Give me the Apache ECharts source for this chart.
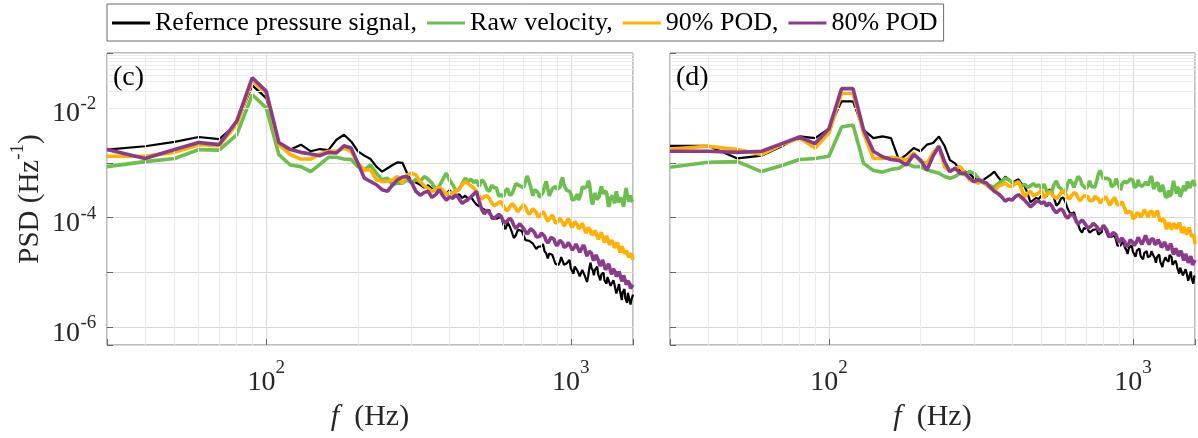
<!DOCTYPE html>
<html><head><meta charset="utf-8">
<script src="https://cdn.jsdelivr.net/npm/echarts@6/dist/echarts.min.js"></script>
<style>html,body{margin:0;padding:0;background:#fff}#c{width:1198px;height:438px}</style>
</head><body><div id="c"></div>
<script>
// Frequency bins (Hz)
const freq = [30,40,50,60,70,80,90,100,110,120,130,140,150,160,170,180,190,200,210,220,230,240,250,260,270,280,290,300,
310,320,330,340,350,360,370,380,390,400,410,420,430,440,450,460,470,480,490,500,
510,520,530,540,550,560,570,580,590,600,610,620,630,640,650,660,670,680,690,700,
710,720,730,740,750,760,770,780,790,800,810,820,830,840,850,860,870,880,890,900,
910,920,930,940,950,960,970,980,990,1000,1010,1020,1030,1040,1050,1060,1070,1080,1090,1100,
1110,1120,1130,1140,1150,1160,1170,1180,1190,1200,1210,1220,1230,1240,1250,1260,1270,1280,1290,1300,
1310,1320,1330,1340,1350,1360,1370,1380,1390,1400,1410,1420,1430,1440,1450,1460,1470,1480,1490,1500,
1510,1520,1530,1540,1550,1560,1570,1580,1590,1600];

// Panel (c)
const refC = [1.74e-3,2.0e-3,2.4e-3,2.95e-3,2.69e-3,5.13e-3,2.57e-2,1.51e-2,2.34e-3,1.74e-3,
2.14e-3,1.62e-3,1.78e-3,1.7e-3,2.63e-3,3.24e-3,2.45e-3,1.62e-3,1.35e-3,1.17e-3,
8.51e-4,6.92e-4,7.94e-4,9.12e-4,1.02e-3,1.0e-3,6.46e-4,4.57e-4,
4.37e-4,3.98e-4,3.55e-4,3.89e-4,3.39e-4,3.16e-4,3.63e-4,3.02e-4,2.75e-4,3.16e-4,
2.63e-4,2.4e-4,2.69e-4,2.29e-4,2.51e-4,2.19e-4,2.4e-4,2.0e-4,1.74e-4,1.62e-4,
1.48e-4,1.41e-4,1.32e-4,1.38e-4,9.55e-5,9.77e-5,9.55e-5,1.0e-4,1.1e-4,7.59e-5,
6.17e-5,8.13e-5,6.92e-5,5.5e-5,4.27e-5,4.79e-5,6.03e-5,6.46e-5,5.75e-5,5.5e-5,
3.89e-5,3.98e-5,3.8e-5,3.8e-5,3.39e-5,3.47e-5,2.69e-5,2.95e-5,3.09e-5,3.02e-5,
3.31e-5,2.45e-5,2.24e-5,1.82e-5,2.24e-5,2.19e-5,2.09e-5,2.04e-5,1.45e-5,1.48e-5,
1.38e-5,1.55e-5,1.91e-5,1.91e-5,1.38e-5,1.45e-5,1.48e-5,1.51e-5,1.7e-5,1.2e-5,
1.15e-5,9.55e-6,1.29e-5,1.23e-5,1.1e-5,1.05e-5,8.51e-6,7.94e-6,1.12e-5,1.05e-5,
8.91e-6,8.51e-6,6.76e-6,8.51e-6,1.2e-5,1.51e-5,1.2e-5,1.1e-5,8.91e-6,1.12e-5,
1.15e-5,1.29e-5,9.33e-6,8.91e-6,7.24e-6,9.33e-6,9.12e-6,1.0e-5,7.24e-6,7.08e-6,
6.31e-6,8.32e-6,7.94e-6,8.13e-6,5.75e-6,5.75e-6,5.37e-6,7.24e-6,6.17e-6,6.17e-6,
4.17e-6,4.68e-6,4.57e-6,6.17e-6,4.68e-6,4.68e-6,3.16e-6,4.37e-6,4.57e-6,5.01e-6,
3.39e-6,3.55e-6,2.82e-6,4.27e-6,4.07e-6,3.98e-6,2.63e-6,3.16e-6,3.31e-6,3.98e-6];

const rawC = [8.51e-4,1.05e-3,1.2e-3,1.74e-3,1.7e-3,3.24e-3,1.74e-2,1.0e-2,1.41e-3,9.12e-4,
8.51e-4,6.92e-4,9.33e-4,1.26e-3,1.26e-3,1.17e-3,1.15e-3,8.51e-4,7.41e-4,9.12e-4,
6.46e-4,4.9e-4,5.25e-4,3.98e-4,4.27e-4,4.27e-4,4.9e-4,4.27e-4,
5.01e-4,4.57e-4,5.62e-4,5.01e-4,4.27e-4,3.24e-4,3.8e-4,5.01e-4,6.46e-4,4.79e-4,
3.98e-4,3.02e-4,3.31e-4,4.17e-4,5.25e-4,4.57e-4,5.01e-4,4.37e-4,4.79e-4,3.72e-4,
4.9e-4,4.37e-4,3.31e-4,3.02e-4,3.89e-4,3.55e-4,3.47e-4,2.45e-4,2.63e-4,2.4e-4,
3.09e-4,3.39e-4,2.57e-4,2.69e-4,3.31e-4,4.17e-4,3.89e-4,3.8e-4,3.63e-4,3.55e-4,
4.68e-4,5.75e-4,5.75e-4,3.47e-4,2.51e-4,3.24e-4,3.16e-4,2.88e-4,2.34e-4,2.4e-4,
2.88e-4,3.8e-4,4.57e-4,3.39e-4,2.51e-4,2.69e-4,3.39e-4,3.55e-4,3.72e-4,3.31e-4,
3.31e-4,3.55e-4,4.79e-4,5.37e-4,3.89e-4,3.72e-4,3.16e-4,3.02e-4,3.02e-4,2.75e-4,
2.09e-4,2.14e-4,2.19e-4,2.45e-4,2.69e-4,2.09e-4,2.19e-4,2.75e-4,3.63e-4,3.55e-4,
3.47e-4,3.24e-4,3.72e-4,4.68e-4,4.27e-4,2.95e-4,2.0e-4,1.74e-4,2.29e-4,2.82e-4,
2.88e-4,2.14e-4,2.24e-4,2.45e-4,3.24e-4,3.72e-4,3.47e-4,2.69e-4,3.09e-4,3.09e-4,
2.88e-4,2.14e-4,1.58e-4,1.74e-4,2.29e-4,2.24e-4,2.51e-4,2.24e-4,1.82e-4,2.4e-4,
3.02e-4,2.57e-4,1.91e-4,1.82e-4,1.78e-4,2.34e-4,2.04e-4,2.04e-4,1.58e-4,2.09e-4,
2.88e-4,3.47e-4,2.63e-4,2.4e-4,1.95e-4,2.04e-4,2.57e-4,2.09e-4,2.19e-4,1.95e-4];

const pod90C = [1.32e-3,1.32e-3,1.55e-3,2.14e-3,2.04e-3,5.01e-3,3.09e-2,1.86e-2,2.14e-3,1.41e-3,
1.17e-3,1.17e-3,1.45e-3,1.62e-3,1.62e-3,1.86e-3,1.62e-3,9.77e-4,7.41e-4,7.41e-4,
4.9e-4,4.57e-4,4.57e-4,4.9e-4,5.62e-4,4.27e-4,6.03e-4,6.46e-4,
6.03e-4,4.57e-4,3.8e-4,3.47e-4,3.02e-4,3.31e-4,3.55e-4,3.16e-4,2.63e-4,2.88e-4,
2.75e-4,3.16e-4,3.31e-4,3.98e-4,4.57e-4,4.17e-4,3.8e-4,3.47e-4,3.02e-4,2.51e-4,
2.19e-4,2.4e-4,2.51e-4,2.24e-4,1.86e-4,1.66e-4,1.74e-4,1.91e-4,1.95e-4,1.66e-4,
1.41e-4,1.35e-4,1.58e-4,1.78e-4,1.7e-4,1.45e-4,1.29e-4,1.38e-4,1.58e-4,1.74e-4,
1.55e-4,1.29e-4,1.15e-4,1.26e-4,1.45e-4,1.48e-4,1.26e-4,1.02e-4,1.0e-4,1.17e-4,
1.29e-4,1.17e-4,9.77e-5,8.71e-5,9.12e-5,1.02e-4,1.12e-4,9.55e-5,7.94e-5,7.59e-5,
8.71e-5,9.77e-5,9.77e-5,8.13e-5,7.08e-5,7.41e-5,8.51e-5,9.55e-5,8.71e-5,7.24e-5,
6.61e-5,7.41e-5,8.51e-5,8.71e-5,7.41e-5,6.31e-5,6.03e-5,6.92e-5,7.94e-5,7.59e-5,
6.17e-5,5.25e-5,5.75e-5,6.61e-5,6.76e-5,5.89e-5,4.9e-5,4.57e-5,5.25e-5,5.89e-5,
5.5e-5,4.57e-5,4.07e-5,4.17e-5,4.9e-5,5.37e-5,4.68e-5,3.98e-5,3.55e-5,4.07e-5,
4.68e-5,4.57e-5,3.72e-5,3.16e-5,3.31e-5,3.89e-5,4.07e-5,3.39e-5,2.82e-5,2.82e-5,
3.24e-5,3.55e-5,3.24e-5,2.63e-5,2.34e-5,2.63e-5,3.02e-5,3.09e-5,2.57e-5,2.19e-5,
2.19e-5,2.51e-5,2.69e-5,2.34e-5,1.91e-5,1.78e-5,2.0e-5,2.24e-5,2.09e-5,1.7e-5];

const pod80C = [1.74e-3,1.2e-3,1.74e-3,2.34e-3,2.14e-3,5.75e-3,3.55e-2,2.0e-2,2.34e-3,1.74e-3,
1.55e-3,1.45e-3,1.35e-3,1.55e-3,1.51e-3,2.04e-3,1.86e-3,9.77e-4,5.25e-4,4.57e-4,
3.98e-4,3.24e-4,3.02e-4,3.98e-4,4.9e-4,5.5e-4,5.62e-4,4.37e-4,
3.02e-4,2.57e-4,2.88e-4,3.02e-4,2.34e-4,2.63e-4,3.24e-4,2.51e-4,2.09e-4,2.4e-4,
2.24e-4,2.63e-4,2.19e-4,1.82e-4,2.0e-4,2.14e-4,2.4e-4,2.69e-4,3.02e-4,2.0e-4,
1.41e-4,1.17e-4,1.38e-4,1.23e-4,1.05e-4,9.55e-5,1.07e-4,1.15e-4,1.07e-4,8.71e-5,
7.94e-5,8.91e-5,9.77e-5,8.91e-5,7.24e-5,6.31e-5,6.76e-5,7.76e-5,7.59e-5,6.31e-5,
5.5e-5,5.01e-5,5.75e-5,6.31e-5,6.31e-5,5.37e-5,4.47e-5,4.17e-5,4.57e-5,5.25e-5,
5.25e-5,4.57e-5,3.8e-5,3.47e-5,3.8e-5,4.37e-5,4.68e-5,4.07e-5,3.39e-5,3.09e-5,
3.39e-5,3.89e-5,3.98e-5,3.47e-5,2.88e-5,2.69e-5,3.09e-5,3.55e-5,3.55e-5,2.95e-5,
2.57e-5,2.45e-5,2.95e-5,3.31e-5,3.24e-5,2.63e-5,2.34e-5,2.4e-5,2.88e-5,3.16e-5,
2.88e-5,2.29e-5,2.0e-5,2.09e-5,2.45e-5,2.63e-5,2.24e-5,1.82e-5,1.66e-5,1.86e-5,
2.09e-5,2.09e-5,1.7e-5,1.45e-5,1.32e-5,1.48e-5,1.7e-5,1.62e-5,1.32e-5,1.12e-5,
1.12e-5,1.32e-5,1.45e-5,1.29e-5,1.05e-5,9.33e-6,1.02e-5,1.17e-5,1.2e-5,1.02e-5,
8.51e-6,8.13e-6,9.33e-6,1.05e-5,9.77e-6,7.94e-6,6.92e-6,7.59e-6,8.91e-6,8.71e-6,
7.08e-6,6.03e-6,6.03e-6,7.08e-6,7.59e-6,6.31e-6,5.13e-6,4.9e-6,5.75e-6,6.03e-6];

// Panel (d)
const refD = [2.04e-3,2.04e-3,1.2e-3,1.35e-3,2.0e-3,3.02e-3,2.82e-3,4.17e-3,1.32e-2,1.32e-2,
3.98e-3,2.82e-3,3.02e-3,2.82e-3,1.12e-3,1.41e-3,1.86e-3,1.62e-3,2.14e-3,2.29e-3,
3.02e-3,2.04e-3,1.12e-3,9.77e-4,7.41e-4,6.92e-4,6.46e-4,5.25e-4,
5.01e-4,4.79e-4,5.37e-4,6.03e-4,6.92e-4,5.5e-4,4.57e-4,5.62e-4,5.01e-4,4.27e-4,
4.68e-4,5.01e-4,4.17e-4,3.72e-4,2.82e-4,1.91e-4,2.09e-4,2.29e-4,2.19e-4,2.51e-4,
2.51e-4,2.45e-4,3.24e-4,3.16e-4,2.29e-4,1.66e-4,1.82e-4,2.24e-4,2.34e-4,1.91e-4,
1.45e-4,1.23e-4,1.2e-4,1.26e-4,9.33e-5,7.59e-5,6.03e-5,5.37e-5,6.46e-5,6.61e-5,
6.17e-5,5.37e-5,5.75e-5,6.03e-5,6.46e-5,6.17e-5,4.9e-5,5.25e-5,5.5e-5,6.92e-5,
6.17e-5,6.03e-5,4.47e-5,4.47e-5,4.47e-5,4.79e-5,4.79e-5,3.89e-5,3.09e-5,3.16e-5,
3.09e-5,3.39e-5,3.89e-5,2.88e-5,2.63e-5,2.19e-5,2.82e-5,2.88e-5,3.16e-5,2.4e-5,
2.29e-5,1.95e-5,2.51e-5,2.63e-5,2.75e-5,2.0e-5,1.95e-5,1.74e-5,2.29e-5,2.4e-5,
2.45e-5,1.91e-5,1.95e-5,2.0e-5,2.45e-5,2.4e-5,2.0e-5,1.82e-5,1.51e-5,1.91e-5,
1.95e-5,2.14e-5,1.58e-5,1.51e-5,1.26e-5,1.58e-5,1.7e-5,1.91e-5,1.7e-5,1.66e-5,
1.58e-5,2.09e-5,2.24e-5,1.91e-5,1.38e-5,1.38e-5,1.29e-5,1.66e-5,1.48e-5,1.2e-5,
1.12e-5,9.55e-6,1.23e-5,1.2e-5,1.26e-5,8.91e-6,8.71e-6,8.71e-6,1.15e-5,1.0e-5,
9.33e-6,7.08e-6,8.13e-6,8.51e-6,1.05e-5,7.76e-6,7.41e-6,6.31e-6,8.51e-6,8.71e-6];

const rawD = [8.32e-4,1.02e-3,1.05e-3,6.92e-4,8.91e-4,1.15e-3,1.2e-3,1.32e-3,4.47e-3,4.9e-3,
9.77e-4,7.24e-4,6.76e-4,7.59e-4,7.94e-4,9.77e-4,8.51e-4,8.51e-4,7.41e-4,6.92e-4,
6.46e-4,5.62e-4,5.25e-4,5.62e-4,6.46e-4,6.03e-4,6.92e-4,6.46e-4,
5.25e-4,4.37e-4,3.98e-4,3.8e-4,3.63e-4,4.17e-4,4.57e-4,5.25e-4,4.9e-4,4.47e-4,
4.17e-4,4.37e-4,3.8e-4,4.07e-4,3.55e-4,3.8e-4,4.17e-4,3.72e-4,3.98e-4,3.39e-4,
4.07e-4,3.02e-4,3.02e-4,2.95e-4,3.98e-4,4.68e-4,3.63e-4,3.39e-4,2.82e-4,3.02e-4,
4.17e-4,4.9e-4,4.37e-4,3.55e-4,4.57e-4,5.62e-4,5.13e-4,3.98e-4,3.72e-4,3.39e-4,
3.72e-4,4.68e-4,3.72e-4,3.47e-4,3.63e-4,4.68e-4,6.31e-4,7.24e-4,6.76e-4,5.13e-4,
4.79e-4,5.25e-4,5.25e-4,4.9e-4,3.63e-4,3.89e-4,4.07e-4,5.13e-4,5.25e-4,3.8e-4,
3.16e-4,4.07e-4,4.17e-4,4.68e-4,4.27e-4,3.98e-4,4.68e-4,5.13e-4,5.13e-4,4.79e-4,
3.55e-4,3.72e-4,3.8e-4,4.9e-4,4.07e-4,3.8e-4,3.72e-4,3.8e-4,4.07e-4,4.47e-4,
4.17e-4,3.89e-4,4.47e-4,4.68e-4,5.75e-4,4.37e-4,3.31e-4,3.8e-4,4.17e-4,4.17e-4,
4.27e-4,3.09e-4,3.09e-4,3.09e-4,3.98e-4,3.47e-4,3.24e-4,2.34e-4,2.29e-4,2.45e-4,
3.16e-4,2.45e-4,2.4e-4,2.75e-4,3.8e-4,4.68e-4,3.8e-4,3.39e-4,2.75e-4,3.63e-4,
3.63e-4,3.24e-4,2.4e-4,2.34e-4,2.4e-4,3.31e-4,3.89e-4,3.09e-4,3.02e-4,3.47e-4,
4.57e-4,4.57e-4,4.57e-4,3.47e-4,3.89e-4,4.27e-4,4.47e-4,4.79e-4,4.27e-4,3.72e-4];

const pod90D = [1.78e-3,2.0e-3,1.74e-3,1.41e-3,2.14e-3,2.82e-3,1.86e-3,3.47e-3,1.86e-2,1.86e-2,
3.47e-3,1.2e-3,1.2e-3,1.26e-3,1.2e-3,1.12e-3,1.51e-3,1.05e-3,9.77e-4,1.51e-3,
2.0e-3,8.51e-4,6.92e-4,7.94e-4,8.51e-4,6.46e-4,4.9e-4,4.57e-4,
4.27e-4,4.68e-4,3.98e-4,3.47e-4,3.02e-4,3.72e-4,3.98e-4,4.27e-4,3.8e-4,3.72e-4,
4.17e-4,4.57e-4,3.31e-4,2.4e-4,2.82e-4,3.02e-4,2.51e-4,2.63e-4,2.82e-4,3.16e-4,
2.29e-4,2.63e-4,2.88e-4,2.75e-4,2.4e-4,2.24e-4,2.45e-4,2.88e-4,3.09e-4,2.75e-4,
2.29e-4,2.24e-4,2.57e-4,2.88e-4,2.75e-4,2.29e-4,2.04e-4,2.14e-4,2.51e-4,2.69e-4,
2.45e-4,2.04e-4,1.91e-4,2.09e-4,2.45e-4,2.57e-4,2.19e-4,1.86e-4,1.82e-4,2.19e-4,
2.45e-4,2.24e-4,1.91e-4,1.7e-4,1.82e-4,2.14e-4,2.34e-4,2.04e-4,1.7e-4,1.66e-4,
1.78e-4,1.95e-4,1.82e-4,1.48e-4,1.2e-4,1.17e-4,1.32e-4,1.38e-4,1.23e-4,9.55e-5,
9.12e-5,1.05e-4,1.23e-4,1.32e-4,1.17e-4,1.02e-4,1.02e-4,1.2e-4,1.41e-4,1.41e-4,
1.17e-4,1.02e-4,1.15e-4,1.32e-4,1.41e-4,1.26e-4,1.05e-4,1.0e-4,1.17e-4,1.35e-4,
1.23e-4,1.0e-4,8.51e-5,8.51e-5,9.55e-5,1.02e-4,8.71e-5,7.08e-5,6.17e-5,6.92e-5,
8.13e-5,8.13e-5,6.92e-5,6.03e-5,6.46e-5,7.94e-5,8.51e-5,7.41e-5,6.31e-5,6.46e-5,
7.41e-5,8.13e-5,7.41e-5,6.03e-5,5.25e-5,5.89e-5,6.76e-5,6.92e-5,5.75e-5,4.9e-5,
5.01e-5,6.03e-5,6.61e-5,6.17e-5,5.13e-5,4.47e-5,4.79e-5,4.9e-5,4.37e-5,3.31e-5];

const pod80D = [1.62e-3,1.62e-3,1.55e-3,1.62e-3,2.24e-3,2.95e-3,2.24e-3,4.17e-3,2.24e-2,2.24e-2,
3.98e-3,1.62e-3,1.29e-3,1.15e-3,1.1e-3,9.12e-4,1.41e-3,1.12e-3,7.41e-4,1.32e-3,
2.0e-3,1.05e-3,6.92e-4,7.94e-4,6.46e-4,6.46e-4,5.25e-4,4.57e-4,
4.9e-4,4.57e-4,4.27e-4,3.55e-4,3.02e-4,2.75e-4,2.4e-4,2.0e-4,2.19e-4,2.09e-4,
2.4e-4,2.63e-4,2.34e-4,2.09e-4,1.82e-4,1.58e-4,1.74e-4,1.95e-4,2.0e-4,1.82e-4,
1.95e-4,1.62e-4,1.86e-4,1.66e-4,1.38e-4,1.23e-4,1.35e-4,1.45e-4,1.32e-4,1.07e-4,
9.77e-5,1.1e-4,1.17e-4,1.07e-4,8.71e-5,7.59e-5,8.13e-5,9.12e-5,8.91e-5,7.41e-5,
6.46e-5,6.17e-5,7.08e-5,7.94e-5,8.13e-5,6.92e-5,5.89e-5,5.62e-5,6.31e-5,7.24e-5,
7.08e-5,6.03e-5,5.01e-5,4.47e-5,4.79e-5,5.37e-5,5.62e-5,4.9e-5,3.98e-5,3.55e-5,
3.8e-5,4.27e-5,4.27e-5,3.63e-5,2.95e-5,2.82e-5,3.39e-5,3.98e-5,4.17e-5,3.55e-5,
3.09e-5,3.09e-5,3.72e-5,4.37e-5,4.27e-5,3.63e-5,3.24e-5,3.47e-5,4.17e-5,4.79e-5,
4.47e-5,3.63e-5,3.24e-5,3.47e-5,4.17e-5,4.47e-5,3.98e-5,3.24e-5,3.09e-5,3.47e-5,
3.98e-5,4.07e-5,3.39e-5,2.88e-5,2.75e-5,3.16e-5,3.63e-5,3.63e-5,2.95e-5,2.57e-5,
2.57e-5,3.02e-5,3.39e-5,3.02e-5,2.4e-5,2.14e-5,2.34e-5,2.75e-5,2.82e-5,2.4e-5,
2.0e-5,1.91e-5,2.24e-5,2.51e-5,2.34e-5,1.91e-5,1.66e-5,1.86e-5,2.19e-5,2.14e-5,
1.78e-5,1.51e-5,1.55e-5,1.82e-5,2.0e-5,1.7e-5,1.38e-5,1.35e-5,1.58e-5,1.7e-5];

const seriesNames = ['Refernce pressure signal,', 'Raw velocity,', '90% POD,', '80% POD'];
const panelLabels = ['(c)', '(d)'];
const xMajorLabels = [100, 1000];
const yMajorLabels = [1e-6, 1e-4, 1e-2];
const xMinorGrid = [40,50,60,70,80,90,200,300,400,500,600,700,800,900];
const yMinorGrid = [5e-7,6e-7,7e-7,8e-7,9e-7,2e-6,3e-6,4e-6,5e-6,6e-6,7e-6,8e-6,9e-6,
  2e-5,3e-5,4e-5,5e-5,6e-5,7e-5,8e-5,9e-5,2e-4,3e-4,4e-4,5e-4,6e-4,7e-4,8e-4,9e-4,
  2e-3,3e-3,4e-3,5e-3,6e-3,7e-3,8e-3,9e-3,2e-2,3e-2,4e-2,5e-2,6e-2,7e-2,8e-2,9e-2];

const panels = [[refC, rawC, pod90C, pod80C], [refD, rawD, pod90D, pod80D]];
const colors = ['#000000', '#6CBF4C', '#FFB000', '#8C3B8C'];
const widths = [2.2, 3.6, 3.6, 3.6];
const FONT = "'Liberation Serif', 'Times New Roman', serif";

function isPow(v, list) {
  return list.some(t => Math.abs(Math.log10(v) - Math.log10(t)) < 1e-6);
}
function powLabel(v) {
  const e = Math.round(Math.log10(v));
  return '{b|10}{s|' + e + '}';
}
const richTick = {
  b: { fontSize: 28, fontFamily: FONT, color: '#262626', lineHeight: 38, verticalAlign: 'bottom' },
  s: { fontSize: 19, fontFamily: FONT, color: '#262626', lineHeight: 20, verticalAlign: 'top' }
};

const grids = [
  { left: 107, top: 53, width: 526, height: 292 },
  { left: 670, top: 53, width: 527, height: 292 }
];

const panelGraphics = panelLabels.map((t, i) => ({
  type: 'text', id: 'panel' + i, left: grids[i].left + 6, top: 64, z: 100,
  style: { text: t, fill: '#000', font: '28px ' + FONT }
}));

const option = {
  animation: false,
  backgroundColor: '#ffffff',
  legend: {
    data: seriesNames,
    left: 107, top: 4,
    orient: 'horizontal',
    icon: 'rect',
    itemWidth: 38, itemHeight: 3, itemGap: 10,
    padding: [6, 6, 5, 5],
    borderColor: '#6a6a6a', borderWidth: 1, backgroundColor: '#fff',
    textStyle: { fontFamily: FONT, fontSize: 26, color: '#000' },
    selectedMode: false
  },
  grid: grids.map(g => Object.assign({ show: true, borderColor: '#7a7a7a', borderWidth: 1, backgroundColor: '#fff', containLabel: false }, g)),
  xAxis: grids.map((g, i) => ({
    type: 'log', logBase: 10, gridIndex: i, min: 30, max: 1600,
    name: '{i|f}  (Hz)', nameLocation: 'middle', nameGap: 48,
    nameTextStyle: { fontFamily: FONT, fontSize: 30, color: '#262626',
      rich: { i: { fontStyle: 'italic', fontFamily: FONT, fontSize: 30, color: '#262626' } } },
    axisLine: { show: false },
    axisTick: { show: true, inside: true, length: 6, lineStyle: { color: '#666' } },
    axisLabel: { show: true, margin: 14, formatter: v => isPow(v, xMajorLabels) ? powLabel(v) : '', rich: richTick },
    splitLine: { show: true, lineStyle: { color: '#d9d9d9', width: 1 } }
  })),
  yAxis: grids.map((g, i) => ({
    type: 'log', logBase: 10, gridIndex: i, min: 4.8e-7, max: 0.1,
    name: i === 0 ? '{n|PSD (Hz}{s|-1}{n|)}' : '', nameLocation: 'middle', nameGap: 62, nameRotate: 90,
    nameTextStyle: { fontFamily: FONT, fontSize: 29, color: '#262626',
      rich: { n: { fontFamily: FONT, fontSize: 29, color: '#262626', lineHeight: 36, verticalAlign: 'bottom' },
              s: { fontFamily: FONT, fontSize: 19, color: '#262626', lineHeight: 20, verticalAlign: 'top' } } },
    axisLine: { show: false },
    axisTick: { show: true, inside: true, length: 6, lineStyle: { color: '#666' } },
    axisLabel: { show: false },
    splitLine: { show: true, lineStyle: { color: '#d9d9d9', width: 1 } }
  })),
  graphic: panelGraphics,
  series: []
};

panels.forEach((arrs, p) => {
  option.series.push({
    type: 'line', xAxisIndex: p, yAxisIndex: p, data: [], silent: true, z: 1,
    markLine: {
      silent: true, symbol: ['none', 'none'], label: { show: false }, animation: false,
      lineStyle: { color: '#ececec', width: 1, type: 'solid' },
      emphasis: { disabled: true },
      data: xMinorGrid.map(v => ({ xAxis: v })).concat(yMinorGrid.map(v => ({ yAxis: v })))
    }
  });
  arrs.forEach((arr, k) => {
    option.series.push({
      name: seriesNames[k], type: 'line', xAxisIndex: p, yAxisIndex: p,
      data: freq.map((f, j) => [f, arr[j]]),
      showSymbol: false, symbol: 'none', z: 2 + k,
      lineStyle: { color: colors[k], width: widths[k] },
      itemStyle: { color: colors[k] },
      emphasis: { disabled: true }
    });
  });
});

const chart = echarts.init(document.getElementById('c'), null, { renderer: 'canvas' });
chart.setOption(option);

// Y tick labels (10^n) placed at the y-axis scale positions of the left panel
const yLabelGraphics = [];
yMajorLabels.forEach((v, k) => {
  const py = chart.convertToPixel({ yAxisIndex: 0 }, v);
  const e = Math.round(Math.log10(v));
  yLabelGraphics.push({
    type: 'text', id: 'yb' + k, x: 80, y: py + 6, z: 100, silent: true,
    style: { text: '10', fill: '#262626', font: '28px ' + FONT, align: 'right', verticalAlign: 'middle' }
  });
  yLabelGraphics.push({
    type: 'text', id: 'ys' + k, x: 80.5, y: py - 4, z: 100, silent: true,
    style: { text: String(e), fill: '#262626', font: '19px ' + FONT, align: 'left', verticalAlign: 'middle' }
  });
});
chart.setOption({ graphic: panelGraphics.concat(yLabelGraphics) });
</script>
</body></html>
